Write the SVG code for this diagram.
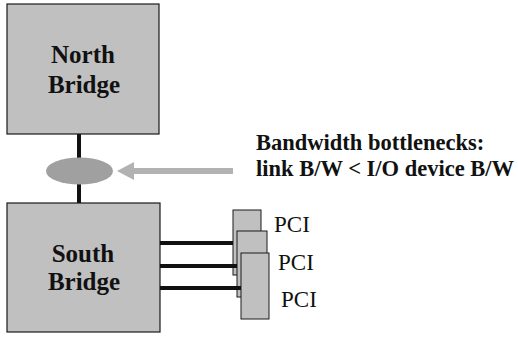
<svg xmlns="http://www.w3.org/2000/svg" width="518" height="337" viewBox="0 0 518 337">
<style>
.box{fill:#c0c0c0;stroke:#1a1a1a;stroke-width:1.2}
.card{fill:#c0c0c0;stroke:#1a1a1a;stroke-width:1}
.bl{font-family:'Liberation Serif','DejaVu Serif',serif;font-weight:bold;font-size:25px;fill:#111;text-anchor:middle}
.note{font-family:'Liberation Serif','DejaVu Serif',serif;font-weight:bold;font-size:22.5px;fill:#111}
.pci{font-family:'Liberation Serif','DejaVu Serif',serif;font-size:23px;fill:#111}
.wire{stroke:#111;stroke-width:4;fill:none}
</style>
<rect width="518" height="337" fill="#ffffff"/>
<g id="connectors">
<line class="wire" x1="79" y1="134" x2="79" y2="203"/>
</g>
<g id="north-bridge">
<rect class="box" x="7" y="4" width="152" height="130"/>
<text class="bl" x="83" y="63" font-family="Liberation Serif, DejaVu Serif, serif">North</text>
<text class="bl" x="84" y="93" font-family="Liberation Serif, DejaVu Serif, serif">Bridge</text>
</g>
<g id="south-bridge">
<rect class="box" x="7" y="203" width="153" height="129"/>
<text class="bl" x="83" y="262" font-family="Liberation Serif, DejaVu Serif, serif">South</text>
<text class="bl" x="84" y="290" font-family="Liberation Serif, DejaVu Serif, serif">Bridge</text>
</g>
<g id="bottleneck">
<ellipse cx="79.5" cy="171" rx="33.5" ry="13.5" fill="#a0a0a0"/>
</g>
<g id="arrow">
<line x1="131" y1="171" x2="233" y2="171" stroke="#b2b2b2" stroke-width="6"/>
<polygon points="117,171 134,162 134,180" fill="#b2b2b2"/>
</g>
<g id="label">
<text class="note" x="256" y="150" font-family="Liberation Serif, DejaVu Serif, serif">Bandwidth bottlenecks:</text>
<text class="note" x="256" y="176" font-family="Liberation Serif, DejaVu Serif, serif">link B/W &lt; I/O device B/W</text>
</g>
<g id="pci1">
<rect class="card" x="233" y="210" width="28" height="65"/>
<text class="pci" x="274" y="232" font-family="Liberation Serif, DejaVu Serif, serif">PCI</text>
</g>
<g id="pci2">
<rect class="card" x="237" y="231" width="30" height="66"/>
<text class="pci" x="278" y="270" font-family="Liberation Serif, DejaVu Serif, serif">PCI</text>
</g>
<g id="pci3">
<rect class="card" x="241" y="253" width="28" height="66"/>
<text class="pci" x="281" y="307" font-family="Liberation Serif, DejaVu Serif, serif">PCI</text>
</g>
<g id="pci-links">
<line class="wire" x1="160" y1="243" x2="233" y2="243"/>
<line class="wire" x1="160" y1="266" x2="237" y2="266"/>
<line class="wire" x1="160" y1="288" x2="241" y2="288"/>
</g>
</svg>
